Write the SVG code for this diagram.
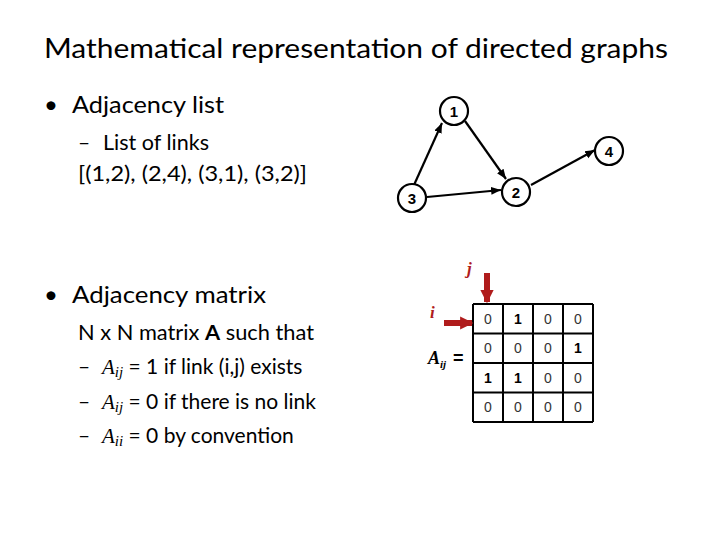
<svg xmlns="http://www.w3.org/2000/svg" width="720" height="540" viewBox="0 0 720 540">
<style>
.c{font-family:Lato,"Liberation Sans",sans-serif;fill:#000}
.n circle{fill:#fff;stroke:#000;stroke-width:2.2}
.n text{font-family:"Liberation Sans",Arial,sans-serif;font-weight:bold;font-size:15px;text-anchor:middle}
.e line{stroke:#000;stroke-width:2.2;marker-end:url(#a)}
.g line{stroke:#000;stroke-width:2}
.m text{font-family:"Liberation Sans",Arial,sans-serif;font-size:14px;text-anchor:middle;fill:#333}
.m text.b{font-weight:bold;fill:#000}
.s{font-family:"Liberation Serif",serif;font-style:italic}
</style>
<defs>
<marker id="a" viewBox="0 0 10 10" refX="10" refY="5" markerWidth="4.5" markerHeight="4.5" orient="auto"><path d="M0,1L10,5L0,9z" fill="#000"/></marker>
<marker id="r" viewBox="0 0 10 10" refX="9" refY="5" markerWidth="2.2" markerHeight="2.4" orient="auto"><path d="M0,0L10,5L0,10z" fill="#b01c1c"/></marker>
</defs>
<text class="c" x="44" y="58" font-size="27" textLength="624" lengthAdjust="spacingAndGlyphs">Mathematical representation of directed graphs</text>
<text class="c" x="44" y="113" font-size="24">•</text>
<text class="c" x="72" y="113" font-size="24" textLength="152" lengthAdjust="spacingAndGlyphs">Adjacency list</text>
<text class="c" x="78" y="150" font-size="21">–</text>
<text class="c" x="103" y="150" font-size="21" textLength="106" lengthAdjust="spacingAndGlyphs">List of links</text>
<text class="c" x="78" y="181" font-size="21" textLength="229" lengthAdjust="spacingAndGlyphs">[(1,2), (2,4), (3,1), (3,2)]</text>
<text class="c" x="44" y="303" font-size="24">•</text>
<text class="c" x="72" y="303" font-size="24" textLength="194" lengthAdjust="spacingAndGlyphs">Adjacency matrix</text>
<text class="c" x="78" y="340" font-size="21" textLength="236" lengthAdjust="spacingAndGlyphs">N x N matrix <tspan font-weight="bold">A</tspan> such that</text>
<text class="c" x="78" y="374" font-size="21">–</text>
<text class="c" x="102" y="374" font-size="21"><tspan class="s">A<tspan font-size="15" dy="3">ij</tspan></tspan><tspan dy="-3"> = 1 if link (i,j) exists</tspan></text>
<text class="c" x="78" y="409" font-size="21">–</text>
<text class="c" x="102" y="409" font-size="21"><tspan class="s">A<tspan font-size="15" dy="3">ij</tspan></tspan><tspan dy="-3"> = 0 if there is no link</tspan></text>
<text class="c" x="78" y="443" font-size="21">–</text>
<text class="c" x="102" y="443" font-size="21"><tspan class="s">A<tspan font-size="15" dy="3">ii</tspan></tspan><tspan dy="-3"> = 0 by convention</tspan></text>
<g id="connectors" class="e">
<line x1="414" y1="185" x2="442" y2="123"/>
<line x1="465" y1="121" x2="506" y2="179"/>
<line x1="427" y1="197" x2="501" y2="190"/>
<line x1="531" y1="185" x2="595" y2="150"/>
</g>
<g id="node1" class="n"><circle cx="454" cy="111" r="14"/><text x="454" y="117">1</text></g>
<g id="node2" class="n"><circle cx="516" cy="192" r="14"/><text x="516" y="198">2</text></g>
<g id="node3" class="n"><circle cx="412" cy="198" r="14"/><text x="412" y="204">3</text></g>
<g id="node4" class="n"><circle cx="609" cy="151" r="14"/><text x="609" y="157">4</text></g>
<g id="matrix">
<g class="g">
<line x1="473" y1="304" x2="593" y2="304"/><line x1="473" y1="333.5" x2="593" y2="333.5"/><line x1="473" y1="363" x2="593" y2="363"/><line x1="473" y1="392.5" x2="593" y2="392.5"/><line x1="473" y1="422" x2="593" y2="422"/>
<line x1="473" y1="304" x2="473" y2="422"/><line x1="503" y1="304" x2="503" y2="422"/><line x1="533" y1="304" x2="533" y2="422"/><line x1="563" y1="304" x2="563" y2="422"/><line x1="593" y1="304" x2="593" y2="422"/>
</g>
<g class="m">
<text x="488" y="324">0</text><text x="518" y="324" class="b">1</text><text x="548" y="324">0</text><text x="578" y="324">0</text>
<text x="488" y="353">0</text><text x="518" y="353">0</text><text x="548" y="353">0</text><text x="578" y="353" class="b">1</text>
<text x="488" y="383" class="b">1</text><text x="518" y="383" class="b">1</text><text x="548" y="383">0</text><text x="578" y="383">0</text>
<text x="488" y="412">0</text><text x="518" y="412">0</text><text x="548" y="412">0</text><text x="578" y="412">0</text>
</g>
<line x1="487" y1="273" x2="487" y2="302" stroke="#b01c1c" stroke-width="6" marker-end="url(#r)"/>
<line x1="444" y1="323" x2="472" y2="323" stroke="#b01c1c" stroke-width="6" marker-end="url(#r)"/>
<text x="467" y="274" font-family="Liberation Serif,serif" font-style="italic" font-weight="bold" font-size="17" fill="#b01c1c">j</text>
<text x="430" y="318" font-family="Liberation Serif,serif" font-style="italic" font-weight="bold" font-size="17" fill="#b01c1c">i</text>
<text x="428" y="364" font-family="Liberation Serif,serif" font-style="italic" font-weight="bold" font-size="18">A<tspan font-size="11" dy="4">ij</tspan></text>
<text x="453" y="364" font-family="Liberation Sans,sans-serif" font-weight="bold" font-size="18">=</text>
</g>
</svg>
